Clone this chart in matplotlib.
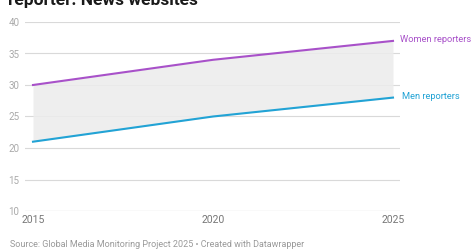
import matplotlib
matplotlib.use('Agg')
import matplotlib.pyplot as plt

plt.rcParams['font.family'] = ['Roboto', 'DejaVu Sans']

# data
years = [2015, 2020, 2025]
women = [30, 34, 37]
men = [21, 25, 28]
y_ticks = [10, 15, 20, 25, 30, 35, 40]

women_color = '#a851c9'
men_color = '#22a3d5'

fig = plt.figure(figsize=(4.72, 2.49), dpi=100)
W, H = 472, 249
ax = fig.add_axes([25 / W, 1 - 211 / H, 375 / W, 189 / H])

ax.fill_between(years, men, women, color='#ececec', alpha=0.85, lw=0, zorder=1)
ax.plot(years, women, color=women_color, lw=1.5, zorder=3)
ax.plot(years, men, color=men_color, lw=1.5, zorder=3)

ax.set_xlim(2015 - 8 / 36, 2025 + 7 / 36)
ax.set_ylim(10, 40)

for t in y_ticks:
    ax.axhline(t, color='#999999' if t == 10 else '#d9d9d9', lw=0.8, zorder=0)

ax.set_yticks(y_ticks)
ax.set_yticklabels([str(t) for t in y_ticks], fontsize=7, color='#aaaaaa')
ax.set_xticks(years)
ax.set_xticklabels([str(y) for y in years], fontsize=7.5, color='#777777')
ax.tick_params(axis='y', length=0, pad=4)
ax.tick_params(axis='x', length=0, pad=3)
for s in ax.spines.values():
    s.set_visible(False)

ax.text(2025.2, women[-1] + 0.2, 'Women reporters', color=women_color, fontsize=6.7,
        va='center', ha='left', clip_on=False)
ax.text(2025.25, men[-1] + 0.2, 'Men reporters', color=men_color, fontsize=6.7,
        va='center', ha='left', clip_on=False)

fig.text(8 / W, 1 - 5 / H, 'reporter: News websites', fontsize=12.5, fontweight='bold',
         color='#1a1a1a', va='baseline', ha='left')
fig.text(10 / W, 1 - 244 / H, 'Source: Global Media Monitoring Project 2025 \u2022 Created with Datawrapper',
         fontsize=6.5, color='#999999', va='center', ha='left')

fig.savefig('out.png', dpi=100)
